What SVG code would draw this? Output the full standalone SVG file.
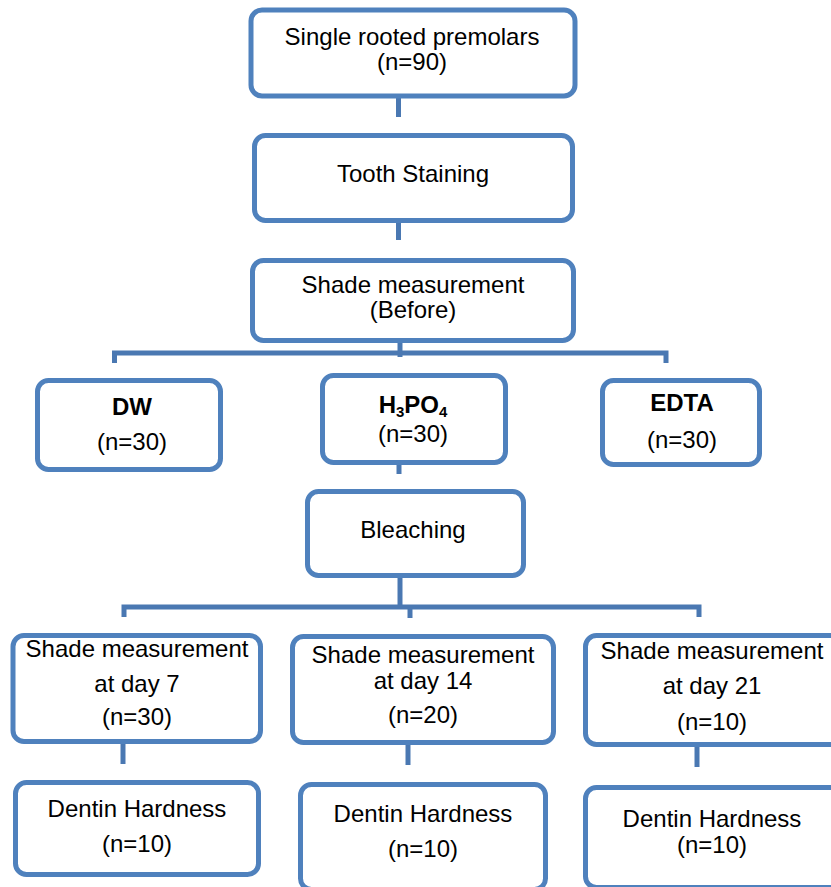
<svg xmlns="http://www.w3.org/2000/svg" width="831" height="887" viewBox="0 0 831 887">
<style>
.box{fill:#fff;stroke:#4F81BD;stroke-width:5}
.c{stroke:#4A78B2;stroke-width:5;fill:none}
.f{stroke:#E4E8F2;stroke-width:5;fill:none}
text{font-family:"Liberation Sans",Arial,sans-serif;font-size:24px;fill:#000;text-anchor:middle}
.b{font-weight:bold}
</style>
<rect width="831" height="887" fill="#fff"/>
<g id="connectors">
<line class="c" x1="398.5" y1="98" x2="398.5" y2="117"/>
<line class="c" x1="398.5" y1="223" x2="398.5" y2="240"/>
<line class="c" x1="400" y1="343" x2="400" y2="357"/>
<polyline class="c" points="114.5,363 114.5,353 666,353 666,363"/>
<line class="c" x1="399" y1="465" x2="399" y2="474"/>
<line class="c" x1="400" y1="577" x2="400" y2="606"/>
<polyline class="c" points="124,617 124,607 699,607 699,617"/>
<line class="c" x1="410" y1="607" x2="410" y2="618"/>
<line class="c" x1="123" y1="744" x2="123" y2="764"/>
<line class="c" x1="408" y1="745" x2="408" y2="765"/>
<line class="c" x1="697" y1="747" x2="697" y2="767"/>
<line class="f" x1="398.5" y1="82" x2="398.5" y2="96"/>
<line class="f" x1="398.5" y1="208" x2="398.5" y2="221"/>
<line class="f" x1="400" y1="336" x2="400" y2="341"/>
<line class="f" x1="399" y1="452" x2="399" y2="463"/>
<line class="f" x1="400" y1="565" x2="400" y2="575"/>
<line class="f" x1="123" y1="733" x2="123" y2="742"/>
<line class="f" x1="408" y1="733" x2="408" y2="743"/>
<line class="f" x1="697" y1="735" x2="697" y2="745"/>
</g>
<g id="premolars">
<rect class="box" x="251" y="10" width="324" height="86" rx="11"/>
<text x="412" y="45">Single rooted premolars</text>
<text x="412" y="70">(n=90)</text>
</g>
<g id="staining">
<rect class="box" x="254.5" y="135.5" width="318" height="85" rx="11"/>
<text x="413" y="182">Tooth Staining</text>
</g>
<g id="shade-before">
<rect class="box" x="252.5" y="260.5" width="321" height="80" rx="11"/>
<text x="413" y="293">Shade measurement</text>
<text x="413" y="318">(Before)</text>
</g>
<g id="dw">
<rect class="box" x="37.5" y="380.5" width="183" height="89" rx="11"/>
<text class="b" x="132" y="415">DW</text>
<text x="132" y="450">(n=30)</text>
</g>
<g id="h3po4">
<rect class="box" x="322.5" y="375.5" width="183" height="87" rx="11"/>
<text class="b" x="413" y="413">H<tspan font-size="15" dy="4">3</tspan><tspan dy="-4">PO</tspan><tspan font-size="15" dy="4">4</tspan></text>
<text x="413" y="442">(n=30)</text>
</g>
<g id="edta">
<rect class="box" x="602.5" y="380.5" width="157" height="84" rx="11"/>
<text class="b" x="682" y="411">EDTA</text>
<text x="682" y="448">(n=30)</text>
</g>
<g id="bleaching">
<rect class="box" x="307.5" y="491.5" width="216" height="84" rx="11"/>
<text x="413" y="538">Bleaching</text>
</g>
<g id="shade-day7">
<rect class="box" x="13" y="635.5" width="247.5" height="106" rx="11"/>
<text x="137" y="657">Shade measurement</text>
<text x="137" y="692">at day 7</text>
<text x="137" y="725">(n=30)</text>
</g>
<g id="shade-day14">
<rect class="box" x="292.5" y="636.5" width="261" height="106" rx="11"/>
<text x="423" y="663">Shade measurement</text>
<text x="423" y="689">at day 14</text>
<text x="423" y="723">(n=20)</text>
</g>
<g id="shade-day21">
<rect class="box" x="585.5" y="635.5" width="260" height="109" rx="11"/>
<text x="712" y="659">Shade measurement</text>
<text x="712" y="694">at day 21</text>
<text x="712" y="730">(n=10)</text>
</g>
<g id="hardness-a">
<rect class="box" x="15.5" y="782.5" width="243" height="92" rx="11"/>
<text x="137" y="817">Dentin Hardness</text>
<text x="137" y="852">(n=10)</text>
</g>
<g id="hardness-b">
<rect class="box" x="300.5" y="784.5" width="245" height="105" rx="11"/>
<text x="423" y="822">Dentin Hardness</text>
<text x="423" y="857">(n=10)</text>
</g>
<g id="hardness-c">
<rect class="box" x="585.5" y="787.5" width="260" height="100" rx="11"/>
<text x="712" y="827">Dentin Hardness</text>
<text x="712" y="853">(n=10)</text>
</g>
</svg>
